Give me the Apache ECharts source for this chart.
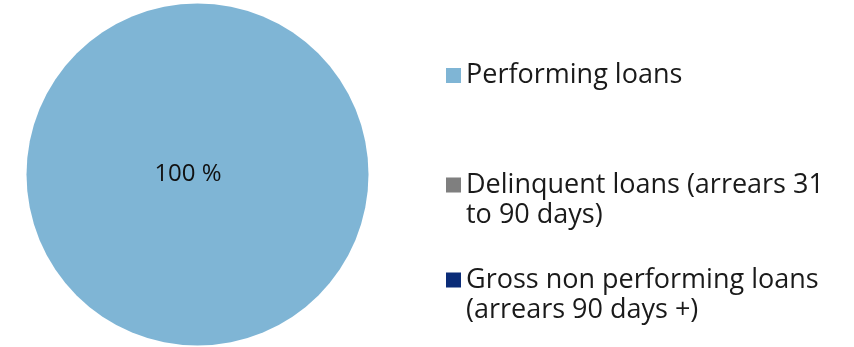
<!DOCTYPE html>
<html>
<head>
<meta charset="utf-8">
<script src="https://cdn.jsdelivr.net/npm/echarts@6/dist/echarts.min.js"></script>
<style>
  html, body { margin: 0; padding: 0; background: #ffffff; }
  #chart { width: 854px; height: 347px; }
</style>
</head>
<body>
<div id="chart"></div>
<script>
// Loan portfolio composition (share of total, %)
var categories = [
  'Performing loans',
  'Delinquent loans (arrears 31 to 90 days)',
  'Gross non performing loans (arrears 90 days +)'
];
var legendLabels = [
  'Performing loans',
  'Delinquent loans (arrears 31\nto 90 days)',
  'Gross non performing loans\n(arrears 90 days +)'
];
var shares = [100, 0, 0];
var colors = ['#7FB5D5', '#7F7F7F', '#0A2C78'];

var FONT = '"Open Sans", "DejaVu Sans", sans-serif';
var TEXT = '#1A1A1A';

// Square marker sitting in the top third of a tall icon box, so that it
// lines up with the first line of a two-line legend label.
var TOP_SQUARE = 'path://M0,0H15V15H0Z M0,45H15';

var chart = echarts.init(document.getElementById('chart'), null, { renderer: 'canvas' });

function makeLegend(i, top, twoLines) {
  return {
    show: true,
    orient: 'vertical',
    left: 446,
    top: top,
    padding: 0,
    itemWidth: 15,
    itemHeight: twoLines ? 45 : 15,
    icon: twoLines ? TOP_SQUARE : 'rect',
    selectedMode: false,
    data: [categories[i]],
    formatter: function () { return legendLabels[i]; },
    textStyle: {
      fontFamily: FONT,
      fontSize: 27,
      color: TEXT,
      lineHeight: 30
    }
  };
}

chart.setOption({
  animation: false,
  color: colors,
  legend: [
    makeLegend(0, 60.5, false),
    makeLegend(1, 170, true),
    makeLegend(2, 265, true)
  ],
  series: [{
    type: 'pie',
    center: [197.5, 174.5],
    radius: [0, 171],
    startAngle: 90,
    silent: true,
    label: {
      show: true,
      position: 'center',
      offset: [-9.5, 0],
      fontFamily: FONT,
      fontSize: 24,
      color: '#111111',
      formatter: function (p) { return p.value > 0 ? p.value + ' %' : ''; }
    },
    labelLine: { show: false },
    itemStyle: { borderWidth: 0 },
    data: categories.map(function (c, i) {
      return { name: c, value: shares[i], label: { show: shares[i] > 0 } };
    })
  }]
});
</script>
</body>
</html>
